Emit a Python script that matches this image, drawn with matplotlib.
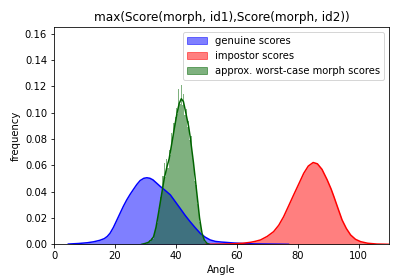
import matplotlib
matplotlib.use("Agg")
import matplotlib.pyplot as plt
import numpy as np
from matplotlib.patches import Patch

# genuine scores KDE
gen_x = [4.7, 8, 11, 13, 15, 16.5, 17.5, 18.4, 19.5, 20.6, 21.7, 22.8, 23.9, 25, 26.1, 27.2, 28.3,
         29.5, 30.5, 31.5, 32.5, 33.7, 34.9, 36.5, 38.2, 39.8, 41.4, 43, 44.7, 46.3, 48, 49.6,
         51.3, 53, 55, 56.8, 59, 62, 66, 70, 74, 77]
gen_y = [0.0002, 0.0006, 0.0012, 0.0019, 0.0030, 0.0043, 0.0060, 0.0084, 0.0128, 0.0182, 0.0236,
         0.0290, 0.0338, 0.0380, 0.0418, 0.0455, 0.0485, 0.0502, 0.0506, 0.0502, 0.0490, 0.0465,
         0.0440, 0.0410, 0.0376, 0.0325, 0.0274, 0.0222, 0.0172, 0.0128, 0.0084, 0.0055,
         0.0033, 0.0022, 0.0017, 0.0014, 0.0010, 0.0006, 0.0003, 0.0002, 0.0001, 0.0000]

# impostor scores KDE
imp_x = [49.9, 53, 56, 59, 62, 64.5, 66, 67.8, 70, 72.1, 73.8, 75.4, 77, 78.7, 80.5, 82, 83.5, 85.1,
         86.5, 88, 89.7, 91, 91.9, 93.3, 94.6, 96, 97.4, 99, 100.7, 103, 106, 110]
imp_y = [0.0000, 0.0001, 0.0002, 0.0004, 0.0008, 0.0015, 0.0022, 0.0033, 0.0060, 0.0096, 0.0145,
         0.0210, 0.0290, 0.0376, 0.0465, 0.0540, 0.0595, 0.0622, 0.0612, 0.0570, 0.0490, 0.0420,
         0.0363, 0.0270, 0.0185, 0.0120, 0.0071, 0.0038, 0.0020, 0.0008, 0.0002, 0.0000]

# approx. worst-case morph scores: histogram (bins of 0.4 starting at 28.0) and KDE
morph_bin_start = 28.0
morph_bin_width = 0.4
morph_hist = [0, 0, 0, 0, 0.001, 0, 0.002, 0.001, 0.003, 0.002, 0.005, 0.004, 0.009, 0.012,
              0.016, 0.022, 0.026, 0.036, 0.038, 0.052, 0.062, 0.051, 0.065, 0.058, 0.072,
              0.068, 0.085, 0.079, 0.092, 0.097, 0.104, 0.099, 0.118, 0.107, 0.121, 0.106,
              0.114, 0.098, 0.103, 0.089, 0.094, 0.079, 0.082, 0.066, 0.062, 0.048, 0.045,
              0.031, 0.029, 0.017, 0.014, 0.007, 0.005, 0.002, 0.001]
morph_kde_x = [28.8, 30, 31, 32, 32.7, 33.5, 34.3, 35.4, 36.2, 37, 37.8, 38.7, 39.5, 40.4, 41.1,
               41.8, 42.5, 43.1, 44.2, 44.7, 45.8, 46.9, 47.8, 48.6, 49.4, 50.2, 51]
morph_kde_y = [0.0000, 0.0007, 0.0015, 0.0035, 0.0058, 0.0130, 0.0236, 0.0390, 0.0500, 0.0580,
               0.0650, 0.0770, 0.0880, 0.0998, 0.1070, 0.1107, 0.1085, 0.1020, 0.0896, 0.0820,
               0.0620, 0.0390, 0.0200, 0.0084, 0.0030, 0.0008, 0.0000]

title = "max(Score(morph, id1),Score(morph, id2))"
labels = ["genuine scores", "impostor scores", "approx. worst-case morph scores"]

fig = plt.figure(figsize=(400 / 72, 280 / 72), dpi=72)
ax = fig.add_axes([0.135, 0.1275, 0.8375, 0.775])

ax.fill_between(gen_x, gen_y, color="blue", alpha=0.5, linewidth=0, zorder=1)
ax.fill_between(imp_x, imp_y, color="red", alpha=0.5, linewidth=0, zorder=1)
edges = morph_bin_start + morph_bin_width * np.arange(len(morph_hist))
ax.bar(edges, morph_hist, width=morph_bin_width, align="edge", color="darkgreen",
       alpha=0.5, linewidth=0, zorder=1)
ax.plot(gen_x, gen_y, color="blue", lw=1.5, zorder=2)
ax.plot(imp_x, imp_y, color="red", lw=1.5, zorder=2)
ax.plot(morph_kde_x, morph_kde_y, color="darkgreen", lw=1.5, zorder=2)

ax.set_xlim(0, 110)
ax.set_ylim(0, 0.165)
ax.set_yticks(np.arange(0, 0.161, 0.02))
ax.set_xticks([0, 20, 40, 60, 80, 100])
ax.set_title(title)
ax.set_xlabel("Angle")
ax.set_ylabel("frequency")

handles = [Patch(color="blue", alpha=0.5), Patch(color="red", alpha=0.5),
           Patch(color="darkgreen", alpha=0.5)]
ax.legend(handles, labels, loc="upper right")

fig.savefig("out.png", dpi=72)
